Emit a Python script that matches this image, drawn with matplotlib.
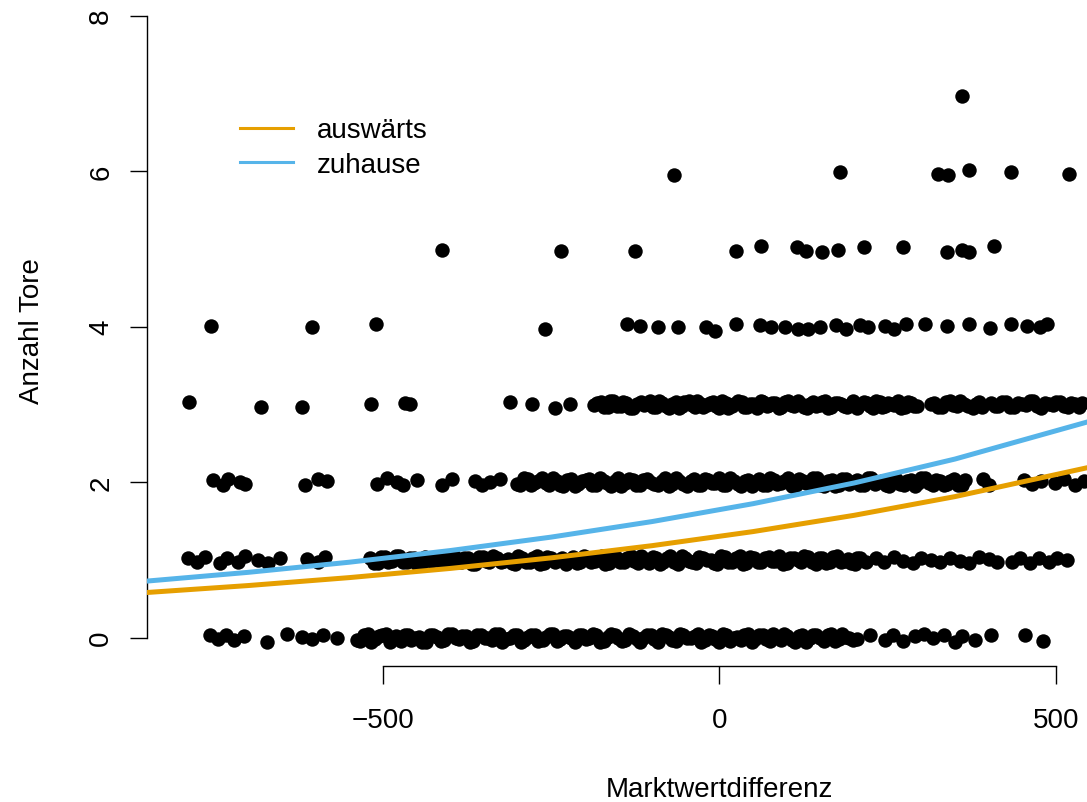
import matplotlib
matplotlib.use('Agg')
import matplotlib.pyplot as plt
from matplotlib.lines import Line2D

plt.rcParams['font.family'] = ['Liberation Sans', 'DejaVu Sans']

# -------------------------------------------------------------------------
# Daten: Marktwertdifferenz (x) und Anzahl Tore (y, leicht gejittert)
# -------------------------------------------------------------------------
x_tore0 = [-757, -745, -734, -722, -706, -672, -642, -620, -605, -589,
           -568, -539, -528, -518, -506, -496, -485, -474, -463, -452,
           -442, -430, -420, -409, -398, -387, -377, -366, -355, -344,
           -333, -323, -312, -301, -290, -280, -269, -258, -247, -237,
           -226, -215, -204, -194, -183, -172, -161, -151, -140, -129,
           -118, -108, -97, -86, -75, -65, -54, -43, -32, -22,
           -11, 0, 10, 21, 32, 43, 53, 64, 75, 86,
           96, 107, 118, 129, 139, 150, 161, 172, 182, 193,
           204, 224, 246, 258, 272, 290, 304, 318, 333, 350,
           360, 380, 403, 454, 481]
y_tore0 = [0.03, -0.02, 0.04, -0.03, 0.02, -0.05, 0.05, 0.01, -0.02, 0.03,
           0.0, -0.03, 0.04, -0.05, 0.02, 0.05, -0.01, -0.04, 0.03, 0.0,
           -0.05, 0.04, 0.01, -0.03, 0.05, -0.02, 0.02, -0.04, 0.03, -0.01,
           0.05, -0.05, 0.0, 0.03, -0.03, 0.04, -0.04, 0.01, 0.05, -0.02,
           0.02, -0.05, 0.04, -0.01, 0.03, -0.04, 0.05, 0.0, -0.03, 0.02,
           -0.05, 0.04, -0.02, 0.05, 0.01, -0.04, 0.03, -0.01, 0.05, -0.03,
           0.02, -0.05, 0.04, 0.0, -0.03, 0.05, -0.02, 0.03, -0.04, 0.01,
           0.05, -0.03, 0.02, -0.05, 0.04, -0.01, 0.03, -0.04, 0.05, 0.0,
           -0.02, 0.03, -0.03, 0.04, -0.04, 0.02, 0.05, -0.01, 0.03, -0.05,
           0.02, -0.03, 0.04, 0.03, -0.04]
# weitere Spiele im dichten Bereich
x_tore0_dicht = [-534, -523, -512, -501, -490, -480, -468, -458, -447, -436,
                 -425, -414, -403, -392, -382, -371, -360, -349, -338, -328,
                 -317, -306, -295, -285, -274, -263, -252, -242, -231, -220,
                 -209, -199, -188, -177, -166, -156, -145, -134, -123, -113,
                 -102, -91, -80, -70, -59, -48, -37, -27, -16, -6,
                 5, 15, 26, 37, 48, 58, 69, 80, 91, 101,
                 112, 123, 134, 144, 155, 166, 177, 187, 198]
y_tore0_dicht = [-0.04, 0.05, -0.02, 0.03, -0.05, 0.02, 0.04, -0.03, 0.01, -0.05,
                 0.03, -0.04, 0.05, -0.01, 0.02, -0.05, 0.04, 0.0, -0.03, 0.05,
                 -0.02, 0.03, -0.05, 0.01, 0.04, -0.03, 0.05, -0.04, 0.02, -0.01,
                 0.04, -0.02, 0.05, -0.05, 0.01, 0.03, -0.04, 0.05, -0.02, 0.0,
                 0.03, -0.05, 0.04, -0.03, 0.05, -0.01, 0.02, -0.05, 0.04, -0.02,
                 0.05, -0.04, 0.01, 0.03, -0.05, 0.04, -0.02, 0.05, -0.03, 0.02,
                 -0.05, 0.04, -0.01, 0.03, -0.04, 0.05, -0.02, 0.01, -0.03]

x_tore1 = [-790, -777, -765, -742, -732, -715, -705, -686, -671, -653,
           -613, -596, -586, -519, -508, -497, -486, -476, -465, -454,
           -443, -433, -422, -411, -400, -390, -379, -368, -357, -347,
           -336, -325, -314, -304, -293, -282, -271, -261, -250, -239,
           -228, -218, -207, -196, -185, -175, -164, -153, -142, -132,
           -121, -110, -99, -89, -78, -67, -56, -46, -35, -24,
           -13, -3, 8, 19, 30, 40, 51, 62, 73, 83,
           94, 105, 116, 126, 137, 148, 159, 169, 180, 191,
           202, 209, 218, 232, 245, 259, 273, 287, 300, 314,
           328, 343, 357, 371, 386, 400, 413, 434, 447, 461,
           475, 489, 502, 516]
y_tore1 = [1.02, 0.98, 1.04, 0.96, 1.03, 0.97, 1.05, 1.0, 0.96, 1.03,
           1.01, 0.97, 1.04, 1.02, 0.96, 1.04, 0.99, 1.05, 0.97, 1.02,
           0.95, 1.03, 1.0, 0.96, 1.05, 0.98, 1.02, 0.95, 1.04, 0.99,
           1.05, 0.97, 1.01, 0.95, 1.03, 0.98, 1.05, 0.96, 1.02, 1.0,
           0.95, 1.04, 0.97, 1.02, 0.99, 1.05, 0.96, 1.03, 0.98, 1.05,
           0.96, 1.01, 1.04, 0.95, 1.02, 0.97, 1.05, 0.99, 0.96, 1.03,
           1.0, 0.95, 1.04, 0.98, 1.05, 0.96, 1.02, 0.97, 1.04, 0.99,
           0.95, 1.03, 1.0, 1.05, 0.97, 1.02, 0.96, 1.04, 0.98, 1.01,
           0.95, 1.03, 0.98, 1.02, 0.97, 1.04, 0.99, 0.96, 1.03, 1.0,
           0.97, 1.02, 0.99, 0.96, 1.04, 1.01, 0.97, 0.98, 1.03, 0.96,
           1.02, 0.98, 1.03, 1.0]
x_tore1_dicht = [-514, -503, -492, -481, -471, -460, -449, -438, -428, -417,
                 -406, -395, -384, -374, -363, -352, -342, -331, -320, -309,
                 -299, -288, -277, -266, -256, -245, -234, -223, -212, -202,
                 -191, -180, -170, -159, -148, -137, -127, -116, -105, -94,
                 -84, -73, -62, -51, -41, -30, -19, -8, 2, 13,
                 24, 35, 46, 57, 67, 78, 89, 100, 110, 121,
                 132, 143, 153, 164, 175, 186, 196, 205]
y_tore1_dicht = [0.96, 1.04, 0.98, 1.05, 0.97, 1.02, 0.95, 1.04, 0.99, 1.03,
                 0.96, 1.05, 0.98, 1.02, 0.95, 1.04, 0.97, 1.03, 0.99, 0.96,
                 1.05, 0.98, 1.02, 0.95, 1.04, 0.97, 1.03, 1.0, 0.96, 1.05,
                 0.98, 1.02, 0.95, 1.04, 0.97, 1.03, 0.99, 1.05, 0.96, 1.02,
                 0.98, 1.05, 0.95, 1.03, 0.97, 1.04, 1.0, 0.96, 1.05, 0.98,
                 1.02, 0.95, 1.04, 0.97, 1.03, 0.99, 1.05, 0.96, 1.02, 0.98,
                 1.04, 0.95, 1.03, 0.97, 1.05, 0.99, 0.96, 1.02]

x_tore2 = [-752, -738, -730, -712, -705, -616, -597, -583, -509, -494,
           -479, -470, -449, -412, -397, -363, -353, -341, -326, -301,
           -290, -280, -269, -258, -247, -237, -226, -215, -204, -194,
           -183, -172, -161, -151, -140, -129, -118, -108, -97, -86,
           -75, -65, -54, -43, -32, -22, -11, 0, 10, 21,
           32, 43, 53, 64, 75, 86, 96, 107, 118, 129,
           139, 150, 161, 172, 182, 193, 204, 214, 225, 236,
           247, 257, 268, 279, 290, 300, 311, 322, 333, 343,
           354, 365, 392, 400, 452, 464, 478, 498, 512, 528,
           541]
y_tore2 = [2.03, 1.97, 2.04, 2.0, 1.98, 1.97, 2.04, 2.01, 1.98, 2.05,
           2.0, 1.96, 2.03, 1.97, 2.04, 2.02, 1.96, 2.0, 2.04, 1.98,
           2.05, 1.96, 2.02, 1.99, 2.05, 1.97, 2.03, 1.95, 2.01, 2.04,
           1.97, 2.02, 1.95, 2.05, 1.99, 2.03, 1.96, 2.04, 1.98, 2.01,
           1.95, 2.05, 1.98, 2.02, 1.96, 2.04, 1.99, 2.05, 1.97, 2.02,
           1.95, 2.03, 2.0, 1.96, 2.05, 1.98, 2.02, 1.95, 2.04, 1.99,
           2.05, 1.97, 2.01, 1.95, 2.04, 1.98, 2.03, 1.96, 2.05, 2.0,
           1.96, 2.04, 1.98, 2.02, 1.95, 2.05, 1.99, 2.03, 1.97, 2.01,
           1.96, 2.03, 2.04, 1.97, 2.03, 1.98, 2.02, 1.99, 2.04, 1.97,
           2.02]
x_tore2_dicht = [-296, -285, -275, -264, -253, -242, -232, -221, -210, -199,
                 -189, -178, -167, -156, -146, -135, -124, -113, -103, -92,
                 -81, -70, -60, -49, -38, -27, -17, -6, 5, 16,
                 27, 38, 48, 59, 70, 81, 91, 102, 113, 124,
                 134, 145, 156, 167, 177, 188, 199, 209, 220, 231,
                 242, 252, 263, 274, 285, 295, 306, 317, 328, 338,
                 349, 360]
y_tore2_dicht = [1.97, 2.04, 1.99, 2.05, 1.96, 2.02, 1.95, 2.04, 1.98, 2.03,
                 1.96, 2.05, 1.99, 2.02, 1.95, 2.04, 1.97, 2.03, 2.0, 1.96,
                 2.05, 1.98, 2.02, 1.95, 2.04, 1.97, 2.03, 1.99, 1.96, 2.05,
                 1.98, 2.02, 1.95, 2.04, 1.97, 2.03, 1.99, 2.05, 1.96, 2.02,
                 1.98, 2.05, 1.95, 2.03, 1.97, 2.04, 2.0, 1.96, 2.05, 1.98,
                 2.02, 1.95, 2.04, 1.97, 2.03, 1.99, 2.05, 1.96, 2.02, 1.98,
                 2.04, 1.96]

x_tore3 = [-788, -682, -621, -518, -468, -460, -312, -279, -244, -222,
           -187, -176, -166, -158, -147, -139, -128, -117, -108, -99,
           -90, -80, -71, -60, -52, -41, -33, -24, -14, -5,
           4, 13, 22, 33, 41, 50, 61, 70, 78, 88,
           97, 106, 116, 126, 134, 144, 153, 161, 171, 181,
           190, 199, 208, 219, 228, 238, 246, 256, 265, 275,
           284, 294, 314, 324, 336, 347, 358, 370, 381, 390,
           404, 414, 426, 437, 449, 461, 472, 484, 495, 506,
           518, 529, 538]
y_tore3 = [3.03, 2.97, 2.97, 3.0, 3.02, 3.01, 3.03, 3.0, 2.96, 3.0,
           2.99, 3.03, 2.97, 3.04, 2.98, 3.02, 2.96, 3.03, 3.0, 2.97,
           3.04, 2.98, 3.01, 2.96, 3.03, 2.99, 3.04, 2.97, 3.02, 2.98,
           3.04, 2.96, 3.01, 3.03, 2.97, 3.0, 3.04, 2.98, 3.02, 2.96,
           3.03, 2.99, 3.04, 2.97, 3.01, 2.98, 3.03, 2.96, 3.02, 3.0,
           2.97, 3.04, 2.99, 3.02, 2.96, 3.03, 2.98, 3.01, 3.04, 2.97,
           3.02, 2.98, 3.0, 2.97, 3.03, 2.99, 3.04, 2.98, 3.01, 2.97,
           3.02, 2.98, 3.03, 2.97, 3.0, 3.04, 2.98, 3.02, 2.99, 3.03,
           2.97, 3.01, 3.02]
x_tore3_dicht = [-182, -171, -162, -152, -143, -133, -122, -112, -103, -94,
                 -85, -75, -65, -56, -46, -37, -28, -19, -9, 0,
                 9, 18, 28, 37, 46, 56, 65, 74, 83, 92,
                 102, 111, 121, 130, 139, 149, 157, 166, 176, 185,
                 195, 204, 214, 224, 233, 242, 251, 260, 270, 280,
                 289, 319, 330, 342, 353, 364, 376, 385,
                 409, 420, 431, 443, 455, 466, 478, 490, 500, 512, 523, 534]
y_tore3_dicht = [3.02, 2.97, 3.04, 2.98, 3.03, 2.96, 3.01, 2.99, 3.04, 2.97,
                 3.02, 2.96, 3.03, 2.98, 3.04, 2.97, 3.01, 2.99, 3.03, 2.96,
                 3.02, 2.98, 3.04, 2.97, 3.01, 2.96, 3.03, 2.99, 3.02, 2.97,
                 3.04, 2.98, 3.01, 2.96, 3.03, 2.99, 3.04, 2.97, 3.02, 2.98,
                 3.01, 2.96, 3.03, 2.98, 3.04, 2.97, 3.02, 2.99, 2.96, 3.03,
                 2.98, 3.02, 2.97, 3.04, 2.98, 3.01, 2.96, 3.03,
                 2.98, 3.03, 2.97, 3.02, 2.99, 3.04, 2.96, 3.01, 3.03, 2.98, 3.02, 2.97]

x_tore4 = [-755, -605, -511, -259, -138, -118, -92, -61, -20, -7,
           24, 60, 77, 97, 117, 131, 149, 173, 188, 209,
           220, 246, 260, 277, 305, 338, 371, 402, 433, 457,
           477, 486]
y_tore4 = [4.01, 4.0, 4.03, 3.97, 4.03, 4.01, 3.99, 3.99, 3.99, 3.95,
           4.03, 4.02, 3.99, 3.99, 3.97, 3.97, 3.99, 4.02, 3.97, 4.02,
           3.99, 4.01, 3.97, 4.035, 4.035, 4.01, 4.03, 3.98, 4.035, 4.005,
           3.99, 4.04]

x_tore5 = [-412, -235, -125, 24, 62, 115, 128, 152, 176, 215, 272, 338, 360, 371, 408]
y_tore5 = [4.99, 4.98, 4.98, 4.98, 5.04, 5.02, 4.98, 4.96, 4.99, 5.02, 5.02, 4.96, 4.99, 4.96, 5.04]

x_tore6 = [-68, 179, 325, 340, 371, 433, 519]
y_tore6 = [5.95, 5.99, 5.96, 5.95, 6.02, 5.99, 5.97]

x_tore7 = [360]
y_tore7 = [6.97]

kurve_x = [-855, -700, -550, -400, -250, -100, 50, 200, 350, 550]
auswaerts_y = [0.579, 0.671, 0.773, 0.891, 1.027, 1.184, 1.365, 1.574, 1.815, 2.193]
zuhause_y = [0.725, 0.841, 0.971, 1.121, 1.294, 1.494, 1.724, 1.990, 2.298, 2.783]

orange = '#E69F00'
blau = '#56B4E9'

# -------------------------------------------------------------------------
# Plot
# -------------------------------------------------------------------------
fig = plt.figure(figsize=(10.87, 8.03), dpi=100)
ax = fig.add_axes([147 / 1087, 136 / 803, 940 / 1087, 667 / 803])

alle_x = (x_tore0 + x_tore0_dicht + x_tore1 + x_tore1_dicht + x_tore2 + x_tore2_dicht
          + x_tore3 + x_tore3_dicht + x_tore4 + x_tore5 + x_tore6 + x_tore7)
alle_y = (y_tore0 + y_tore0_dicht + y_tore1 + y_tore1_dicht + y_tore2 + y_tore2_dicht
          + y_tore3 + y_tore3_dicht + y_tore4 + y_tore5 + y_tore6 + y_tore7)
ax.plot(alle_x, alle_y, 'o', color='black', ms=10.4, mew=0, zorder=2)

ax.plot(kurve_x, auswaerts_y, color=orange, lw=3.6, zorder=3, solid_capstyle='butt')
ax.plot(kurve_x, zuhause_y, color=blau, lw=3.6, zorder=3, solid_capstyle='butt')

ax.set_xlim(-850.7, 546.1)
ax.set_ylim(-0.364, 8.215)

for s in ['top', 'right']:
    ax.spines[s].set_visible(False)
ax.spines['left'].set_bounds(0, 8)
ax.spines['bottom'].set_bounds(-500, 500)
ax.spines['left'].set_linewidth(1.0)
ax.spines['bottom'].set_linewidth(1.0)

ax.set_xticks([-500, 0, 500])
ax.set_yticks([0, 2, 4, 6, 8])
ax.tick_params(length=12.6, width=1.0, labelsize=20, direction='out')
ax.tick_params(axis='x', pad=17)
ax.tick_params(axis='y', pad=11, labelrotation=90)
for lab in ax.get_yticklabels():
    lab.set_verticalalignment('center')

fig.text(719.5 / 1087, 6 / 803, 'Marktwertdifferenz', ha='center', va='baseline', fontsize=20)
fig.text(39 / 1087, 1 - 331 / 803, 'Anzahl Tore', rotation=90, rotation_mode='anchor',
         ha='center', va='baseline', fontsize=20)

# Legende
fig.add_artist(Line2D([240 / 1087, 293 / 1087], [1 - 128.7 / 803] * 2, color=orange, lw=2.2))
fig.add_artist(Line2D([240 / 1087, 293 / 1087], [1 - 163 / 803] * 2, color=blau, lw=2.2))
fig.text(317 / 1087, 1 - 138.3 / 803, 'auswärts', ha='left', va='baseline', fontsize=20)
fig.text(317 / 1087, 1 - 173.3 / 803, 'zuhause', ha='left', va='baseline', fontsize=20)

fig.savefig('out.png', dpi=100)
